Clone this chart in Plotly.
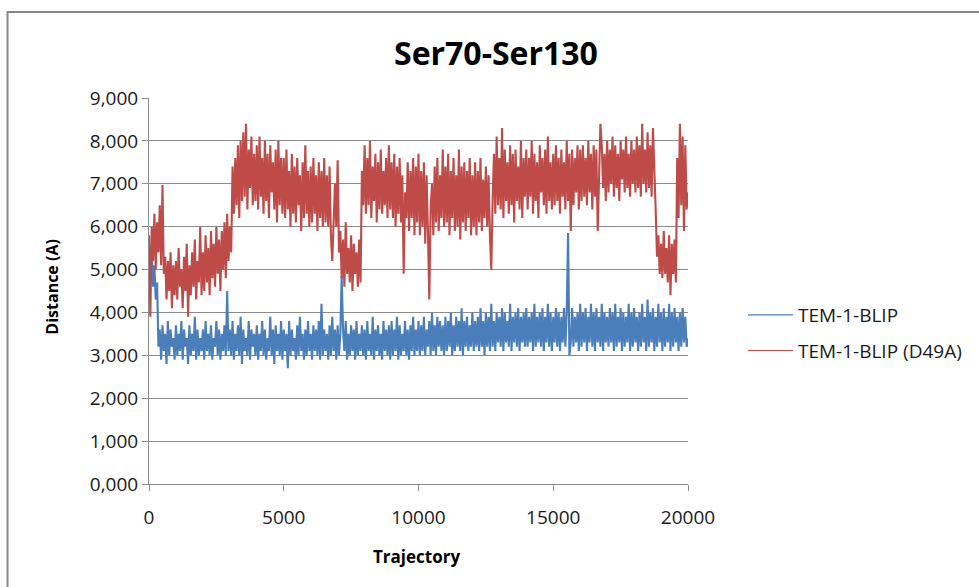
import plotly.graph_objects as go

# Trajectory frame index (sampled every 50 frames)
frames = list(range(0, 20001, 50))

# Distance (Å), TEM-1-BLIP (one row = 1000 frames)
tem1_blip = [
    5.3, 4.9, 5.45, 4.6, 5.1, 4.3, 4.7, 3.2, 3.6, 2.9, 3.7, 3.1, 3.5, 2.8, 3.8, 3.0, 3.6, 3.2, 3.4, 2.9,
    3.7, 3.0, 3.5, 3.1, 3.8, 2.9, 3.6, 3.2, 3.4, 2.8, 3.7, 3.0, 3.5, 3.1, 3.9, 2.9, 3.6, 3.0, 3.4, 3.1,
    3.6, 2.9, 3.8, 3.1, 3.5, 3.0, 3.7, 2.9, 3.4, 3.2, 3.8, 3.0, 3.6, 2.9, 3.5, 3.1, 3.7, 3.0, 4.5, 3.1,
    3.6, 3.0, 3.8, 2.9, 3.5, 3.1, 3.7, 3.0, 3.9, 2.8, 3.6, 3.1, 3.4, 3.0, 3.8, 2.9, 3.6, 3.2, 3.5, 3.0,
    3.7, 2.9, 3.5, 3.1, 3.8, 3.0, 3.6, 2.9, 3.4, 3.1, 3.9, 3.0, 3.6, 2.8, 3.7, 3.1, 3.5, 3.0, 3.8, 2.9,
    3.6, 3.1, 3.5, 2.7, 3.8, 3.0, 3.6, 3.1, 3.4, 2.9, 3.7, 3.0, 3.9, 3.1, 3.5, 2.9, 3.6, 3.0, 3.8, 3.1,
    3.5, 2.9, 3.7, 3.1, 3.6, 3.0, 3.8, 2.9, 4.2, 3.0, 3.6, 3.1, 3.5, 2.9, 3.7, 3.0, 3.9, 3.1, 3.6, 2.9,
    3.7, 3.0, 3.5, 4.85, 3.6, 3.1, 3.8, 2.9, 3.5, 3.0, 3.7, 3.1, 3.6, 2.9, 3.8, 3.0, 3.5, 3.1, 3.7, 3.0,
    3.6, 2.9, 3.8, 3.1, 3.5, 3.0, 3.9, 2.9, 3.6, 3.1, 3.7, 3.0, 3.5, 2.9, 3.8, 3.1, 3.6, 3.0, 3.7, 2.9,
    3.8, 3.0, 3.6, 3.1, 3.9, 2.9, 3.7, 3.0, 3.5, 3.1, 3.8, 3.0, 3.6, 2.9, 3.7, 3.1, 3.9, 3.0, 3.6, 3.1,
    3.8, 3.0, 3.7, 3.1, 3.9, 3.0, 3.6, 3.2, 3.8, 3.0, 4.0, 3.1, 3.7, 3.0, 3.9, 3.2, 3.8, 3.1, 3.7, 3.0,
    3.9, 3.1, 3.8, 3.2, 4.0, 3.0, 3.7, 3.1, 3.9, 3.2, 3.8, 3.1, 4.1, 3.0, 3.8, 3.2, 3.9, 3.1, 3.7, 3.2,
    4.0, 3.1, 3.8, 3.2, 3.9, 3.1, 4.1, 3.2, 3.8, 3.0, 4.0, 3.2, 3.9, 3.1, 4.2, 3.2, 3.8, 3.1, 4.0, 3.3,
    3.9, 3.2, 4.1, 3.1, 4.0, 3.3, 3.8, 3.2, 4.2, 3.1, 3.9, 3.3, 4.0, 3.2, 4.1, 3.1, 3.9, 3.3, 4.0, 3.2,
    4.1, 3.2, 3.9, 3.3, 4.0, 3.1, 4.2, 3.2, 3.9, 3.3, 4.0, 3.2, 4.1, 3.1, 3.9, 3.3, 4.2, 3.2, 4.0, 3.1,
    3.9, 3.3, 4.1, 3.2, 4.0, 3.1, 3.9, 3.3, 4.1, 3.2, 4.0, 5.85, 3.0, 3.3, 4.1, 3.2, 3.9, 3.3, 4.0, 3.1,
    4.2, 3.2, 4.0, 3.3, 4.1, 3.1, 3.9, 3.3, 4.2, 3.2, 4.0, 3.1, 4.1, 3.3, 3.9, 3.2, 4.2, 3.1, 4.0, 3.3,
    3.9, 3.2, 4.1, 3.3, 4.0, 3.1, 4.2, 3.2, 3.9, 3.3, 4.1, 3.1, 4.0, 3.2, 3.9, 3.3, 4.2, 3.1, 4.0, 3.2,
    4.1, 3.3, 3.9, 3.1, 4.0, 3.2, 4.2, 3.3, 3.9, 3.1, 4.3, 3.2, 4.0, 3.3, 4.1, 3.1, 3.9, 3.2, 4.2, 3.3,
    4.0, 3.1, 4.1, 3.2, 3.9, 3.3, 4.2, 3.1, 4.0, 3.2, 4.1, 3.3, 3.9, 3.1, 4.0, 3.2, 4.1, 3.3, 3.9, 3.2,
    3.4,
]

# Distance (Å), TEM-1-BLIP (D49A) (one row = 1000 frames)
tem1_blip_d49a = [
    5.8, 3.9, 6.0, 5.2, 6.3, 5.0, 6.1, 5.4, 6.5, 5.1, 6.97, 4.9, 5.3, 4.3, 5.2, 4.5, 5.4, 4.1, 5.1, 4.4,
    5.2, 4.3, 5.5, 4.6, 5.0, 4.1, 5.3, 4.5, 5.6, 3.9, 5.1, 4.4, 5.4, 4.6, 5.7, 4.3, 5.2, 4.7, 6.0, 4.4,
    5.4, 4.5, 5.8, 4.7, 5.5, 4.4, 5.9, 4.8, 5.6, 4.6, 6.0, 4.9, 5.7, 4.5, 5.9, 5.0, 6.1, 4.8, 6.3, 5.2,
    6.0, 5.4, 7.4, 6.3, 7.6, 6.5, 7.9, 6.2, 8.0, 6.6, 8.2, 6.7, 8.4, 6.4, 7.8, 6.9, 8.1, 6.5, 7.7, 6.6,
    7.9, 6.4, 8.1, 6.7, 7.6, 6.3, 8.0, 6.6, 7.7, 6.2, 7.9, 6.8, 7.5, 6.4, 7.8, 6.1, 8.0, 6.5, 7.6, 6.3,
    7.6, 6.2, 7.8, 6.4, 7.3, 6.0, 7.7, 6.3, 7.4, 6.1, 7.6, 6.5, 7.2, 5.9, 7.5, 6.2, 7.9, 6.3, 7.3, 6.0,
    7.4, 6.1, 7.6, 6.3, 7.2, 5.9, 7.5, 6.2, 7.3, 6.0, 7.6, 6.1, 7.2, 6.0, 7.4, 5.8, 5.2, 6.3, 7.0, 6.0,
    7.55, 5.4, 5.9, 4.8, 5.7, 4.6, 6.1, 4.9, 5.5, 4.7, 5.8, 4.5, 5.6, 4.9, 5.4, 4.6, 5.7, 4.7, 7.3, 6.5,
    7.9, 6.3, 7.6, 6.5, 8.0, 6.2, 7.4, 6.6, 7.7, 6.1, 7.5, 6.4, 7.8, 6.3, 7.3, 6.5, 7.6, 6.2, 7.9, 6.4,
    7.5, 6.2, 7.7, 6.0, 7.4, 6.3, 7.6, 6.1, 7.2, 4.9, 6.8, 6.2, 7.5, 5.9, 7.3, 6.2, 7.6, 5.8, 7.4, 6.1,
    7.7, 5.8, 7.3, 6.0, 7.5, 5.6, 7.2, 5.9, 4.3, 6.4, 7.0, 5.8, 7.4, 6.1, 7.6, 5.9, 7.2, 6.2, 7.8, 6.0,
    7.4, 6.1, 7.7, 5.8, 7.3, 6.2, 7.6, 5.9, 7.2, 6.0, 7.8, 5.7, 7.4, 6.1, 7.5, 5.9, 7.3, 6.2, 7.6, 5.8,
    7.2, 6.0, 7.5, 5.8, 7.3, 6.1, 7.6, 5.9, 7.1, 6.2, 7.4, 6.0, 7.2, 5.8, 5.0, 6.6, 7.7, 6.3, 8.1, 6.5,
    7.6, 6.4, 8.3, 6.2, 7.8, 6.6, 7.5, 6.3, 7.9, 6.5, 7.7, 6.1, 7.8, 6.6, 7.4, 6.4, 8.0, 6.2, 7.6, 6.7,
    7.8, 6.4, 7.6, 6.7, 8.0, 6.3, 7.7, 6.6, 7.5, 6.2, 7.9, 6.8, 7.6, 6.5, 7.8, 6.3, 8.1, 6.6, 7.5, 6.4,
    7.7, 6.5, 7.9, 6.6, 7.6, 6.3, 7.8, 6.7, 7.5, 6.4, 8.0, 6.6, 7.7, 5.9, 7.8, 6.5, 7.6, 6.8, 7.9, 6.4,
    7.8, 6.6, 7.9, 6.7, 7.6, 6.5, 8.0, 6.8, 7.7, 6.4, 7.9, 6.7, 7.8, 5.9, 7.6, 8.4, 7.9, 6.9, 7.7, 6.6,
    8.0, 6.8, 7.8, 7.0, 8.1, 6.7, 7.9, 6.9, 7.7, 6.6, 8.0, 7.1, 7.8, 6.8, 8.1, 6.9, 7.7, 6.7, 8.0, 7.0,
    7.8, 6.8, 8.1, 6.9, 7.9, 6.7, 8.4, 7.0, 7.8, 6.8, 8.2, 6.9, 7.9, 6.7, 8.3, 7.0, 6.4, 5.3, 5.8, 4.9,
    5.6, 4.8, 5.9, 4.9, 5.5, 4.7, 5.8, 4.4, 5.6, 4.9, 5.7, 4.7, 7.6, 6.2, 8.4, 6.5, 8.1, 5.9, 7.9, 6.4,
    6.8,
]

series_names = ["TEM-1-BLIP", "TEM-1-BLIP (D49A)"]
series_colors = ["#4a7ebb", "#be4b48"]
x_ticks = [0, 5000, 10000, 15000, 20000]
y_ticks = [0, 1, 2, 3, 4, 5, 6, 7, 8, 9]

FONT = "Open Sans"
GRID = "#8c8c8c"
TXT = "#1a1a1a"

fig = go.Figure()
for vals, name, color, grp in [(tem1_blip, series_names[0], series_colors[0], "a"),
                               (tem1_blip_d49a, series_names[1], series_colors[1], "b")]:
    fig.add_trace(go.Scatter(x=frames, y=vals, mode="lines", name=name,
                             legendgroup=grp, showlegend=False,
                             line=dict(color=color, width=2.1)))
# legend entries with thin lines (as in the original chart legend)
for name, color, grp in [(series_names[0], series_colors[0], "a"),
                         (series_names[1], series_colors[1], "b")]:
    fig.add_trace(go.Scatter(x=[None], y=[None], mode="lines", name=name,
                             legendgroup=grp, showlegend=True,
                             line=dict(color=color, width=1.1)))

fig.update_layout(
    width=979, height=587,
    margin=dict(l=149, r=289, t=98, b=103),
    paper_bgcolor="white", plot_bgcolor="white",
    separators=",.",
    font=dict(family=FONT, size=19, color=TXT),
    showlegend=True,
    legend=dict(x=1.102, xanchor="left", y=0.487, yanchor="top",
                font=dict(family=FONT, size=19, color=TXT),
                itemwidth=45,
                tracegroupgap=8, bgcolor="rgba(0,0,0,0)"),
    xaxis=dict(range=[0, 20000], tickvals=x_ticks, tickformat="d",
               showgrid=False, zeroline=False,
               showline=True, linecolor=GRID, linewidth=1,
               ticks="outside", ticklen=6, tickcolor=GRID,
               ticklabelstandoff=10,
               tickfont=dict(family=FONT, size=19, color=TXT)),
    yaxis=dict(range=[0, 9], tickvals=y_ticks, tickformat=".3f",
               showgrid=True, gridcolor=GRID, gridwidth=1, zeroline=False,
               showline=True, linecolor=GRID, linewidth=1,
               ticks="outside", ticklen=6, tickcolor=GRID,
               tickfont=dict(family=FONT, size=19, color=TXT)),
    annotations=[
        dict(text="<b>Ser70-Ser130</b>", xref="paper", yref="paper",
             x=0.643, y=1.119, xanchor="center", yanchor="middle",
             showarrow=False, font=dict(family=FONT, size=32, color="black")),
        dict(text="<b>Distance (A)</b>", xref="paper", yref="paper",
             x=-0.179, y=0.51, xanchor="center", yanchor="middle", textangle=-90,
             showarrow=False, font=dict(family=FONT, size=16, color="black")),
        dict(text="<b>Trajectory</b>", xref="paper", yref="paper",
             x=0.497, y=-0.189, xanchor="center", yanchor="middle",
             showarrow=False, font=dict(family=FONT, size=17, color="black")),
    ],
    shapes=[
        dict(type="rect", xref="paper", yref="paper",
             x0=-0.2625, y0=-0.35, x1=1.6, y1=1.2228,
             line=dict(color="#878787", width=2), fillcolor="rgba(0,0,0,0)", layer="below"),
    ],
)

fig.write_html("out.html")
